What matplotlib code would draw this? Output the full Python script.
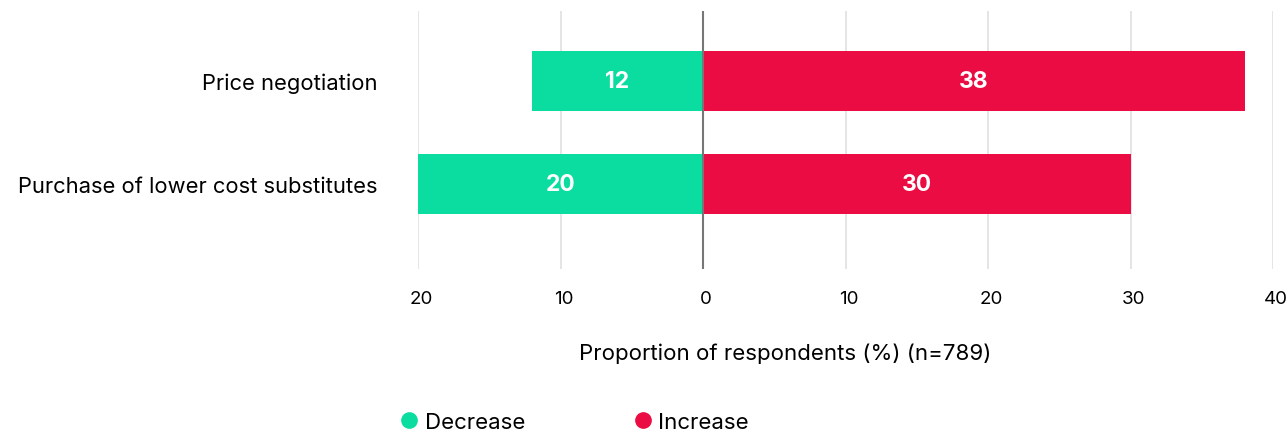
import matplotlib

matplotlib.use("Agg")
import matplotlib.pyplot as plt
import matplotlib.transforms as mtransforms
from matplotlib.lines import Line2D

plt.rcParams["font.family"] = ["Inter", "DejaVu Sans"]

categories = ["Price negotiation", "Purchase of lower cost substitutes"]
decrease = [12, 20]
increase = [38, 30]
ticks = [-20, -10, 0, 10, 20, 30, 40]

GREEN = "#0bdca0"
RED = "#ea0c42"

fig = plt.figure(figsize=(12.87, 4.31), dpi=100)
ax = fig.add_axes([418 / 1287, 1 - 270 / 431, (1273 - 418) / 1287, (270 - 12) / 431])

y = list(range(len(categories)))
neg = [-d for d in decrease]
bd = ax.barh(y, neg, height=0.58, color=GREEN, zorder=2)
bi = ax.barh(y, increase, height=0.58, color=RED, zorder=2)
for bars, vals in ((bd, decrease), (bi, increase)):
    for b, v in zip(bars, vals):
        ax.text(b.get_x() + b.get_width() / 2, b.get_y() + b.get_height() / 2, str(v),
                ha="center", va="center", color="white", fontsize=16.5, fontweight="bold", zorder=3)

ax.set_xlim(-20, 40)
ax.set_ylim(1.825, -0.68)
ax.set_xticks(ticks)
ax.set_xticklabels([str(abs(t)) for t in ticks], fontsize=13.5)
ax.set_yticks(y)
ax.set_yticklabels(categories, fontsize=15.8)
ax.tick_params(axis="y", length=0, pad=29)
ax.tick_params(axis="x", length=0, pad=15)
off = mtransforms.ScaledTranslation(3 / 100, 0, fig.dpi_scale_trans)
for lab in ax.get_xticklabels():
    lab.set_transform(lab.get_transform() + off)
ax.grid(axis="x", color="#e3e3e3", lw=1.3, zorder=0)
ax.axvline(0, color="#777777", lw=1.5, zorder=4)
for s in ax.spines.values():
    s.set_visible(False)

fig.text(785 / 1287, 1 - 354 / 431, "Proportion of respondents (%) (n=789)",
         ha="center", va="center", fontsize=16)

handles = [
    Line2D([], [], marker="o", ls="", color=GREEN, ms=11, label="Decrease"),
    Line2D([], [], marker="o", ls="", color=RED, ms=11, label="Increase"),
]
fig.legend(handles=handles, loc="center left", bbox_to_anchor=(398 / 1287, 1 - 423 / 431),
           ncol=2, frameon=False, fontsize=16, handletextpad=0.2, columnspacing=4.8,
           handlelength=1.0, borderaxespad=0, borderpad=0)

fig.savefig("out.png", dpi=100)
